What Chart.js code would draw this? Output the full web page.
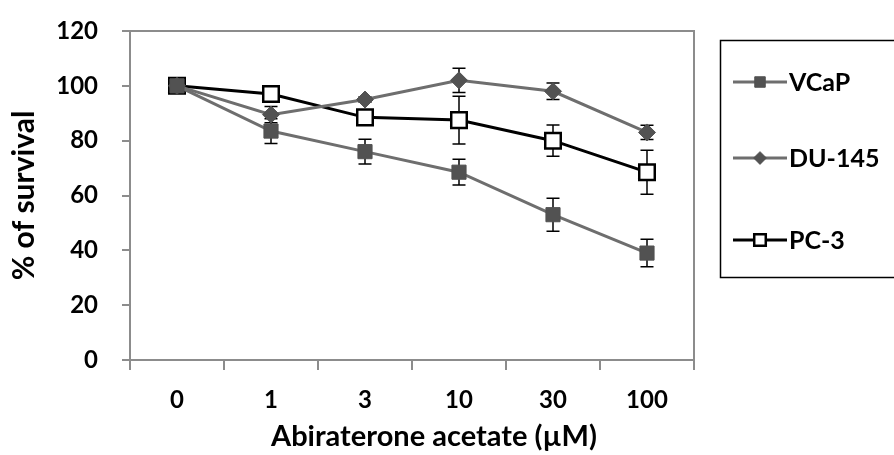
<!DOCTYPE html>
<html>
<head>
<meta charset="utf-8">
<script src="https://cdn.jsdelivr.net/npm/chart.js@4.4.1/dist/chart.umd.min.js"></script>
<style>
  html, body { margin: 0; padding: 0; background: #fff; }
  #wrap { width: 894px; height: 455px; }
</style>
</head>
<body>
<div id="wrap"><canvas id="chart" width="894" height="455"></canvas></div>
<script>
// data
const doses = ['0', '1', '3', '10', '30', '100'];
const vcap = [100, 83.5, 76, 68.5, 53, 39];
const vcapErr = [0, 4.5, 4.5, 4.7, 6, 5];
const du145 = [100, 89.5, 95, 102, 98, 83];
const du145Err = [0, 3, 1, 4.4, 3, 2.6];
const pc3 = [100, 97, 88.5, 87.5, 80, 68.5];
const pc3Err = [0, 2.8, 2, 8.7, 5.7, 8];
const yTicks = [0, 20, 40, 60, 80, 100, 120];

const FONT = 'Lato, "Open Sans", sans-serif';
const GRAY_LINE = '#6e6e6e';
const GRAY_MARK = '#525252';
const AXIS = '#8c8c8c';

const errors = [vcapErr, du145Err, pc3Err];

// error bars, drawn under the markers
const errorBars = {
    id: 'errorBars',
    beforeDatasetsDraw(chart) {
        const ctx = chart.ctx;
        const y = chart.scales.y;
        ctx.save();
        ctx.strokeStyle = '#000';
        ctx.lineWidth = 1.5;
        chart.data.datasets.forEach((ds, i) => {
            const meta = chart.getDatasetMeta(i);
            meta.data.forEach((pt, j) => {
                const e = errors[i][j];
                if (!e) return;
                const top = y.getPixelForValue(ds.data[j] + e);
                const bot = y.getPixelForValue(ds.data[j] - e);
                ctx.beginPath();
                ctx.moveTo(pt.x, top); ctx.lineTo(pt.x, bot);
                ctx.moveTo(pt.x - 6.5, top); ctx.lineTo(pt.x + 6.5, top);
                ctx.moveTo(pt.x - 6.5, bot); ctx.lineTo(pt.x + 6.5, bot);
                ctx.stroke();
            });
        });
        ctx.restore();
    }
};

function drawMarker(ctx, style, x, y, r) {
    if (style === 'rectRot') {
        ctx.moveTo(x, y - r); ctx.lineTo(x + r, y); ctx.lineTo(x, y + r); ctx.lineTo(x - r, y); ctx.closePath();
    } else {
        const s = r * 0.7;
        ctx.rect(x - s, y - s, 2 * s, 2 * s);
    }
}

// gray frame on top and right of plot area, x title, boxed legend
const frameAndLegend = {
    id: 'frameAndLegend',
    afterDraw(chart) {
        const ctx = chart.ctx;
        const a = chart.chartArea;
        ctx.save();
        ctx.strokeStyle = AXIS;
        ctx.lineWidth = 2;
        ctx.beginPath();
        ctx.moveTo(a.left, a.top); ctx.lineTo(a.right, a.top); ctx.lineTo(a.right, a.bottom);
        ctx.stroke();

        // x axis title
        ctx.fillStyle = '#000';
        ctx.font = 'bold 29px ' + FONT;
        ctx.textAlign = 'center';
        ctx.textBaseline = 'middle';
        ctx.fillText('Abiraterone acetate (µM)', 434, 437);

        // legend box
        ctx.textAlign = 'left';
        ctx.strokeStyle = '#000';
        ctx.lineWidth = 1.5;
        ctx.strokeRect(720.5, 40.5, 190, 237);
        const rows = [82, 158, 240];
        ctx.font = 'bold 25px ' + FONT;
        chart.data.datasets.forEach((ds, i) => {
            const yy = rows[i];
            ctx.strokeStyle = ds.borderColor;
            ctx.lineWidth = ds.borderWidth;
            ctx.beginPath();
            ctx.moveTo(733, yy); ctx.lineTo(787, yy);
            ctx.stroke();
            ctx.fillStyle = ds.pointBackgroundColor;
            ctx.strokeStyle = ds.pointBorderColor;
            ctx.lineWidth = ds.pointBorderWidth;
            ctx.beginPath();
            drawMarker(ctx, ds.pointStyle, 760, yy, ds.pointRadius * 0.75);
            ctx.fill(); ctx.stroke();
            ctx.fillStyle = '#000';
            ctx.fillText(ds.label, 789, yy + 1);
        });
        ctx.restore();
    }
};

new Chart(document.getElementById('chart'), {
    type: 'line',
    data: {
        labels: doses,
        datasets: [
            {
                label: 'VCaP', data: vcap,
                borderColor: GRAY_LINE, borderWidth: 3,
                pointStyle: 'rect', pointRadius: 10, pointBorderWidth: 1,
                pointBackgroundColor: GRAY_MARK, pointBorderColor: GRAY_MARK
            },
            {
                label: 'DU-145', data: du145,
                borderColor: GRAY_LINE, borderWidth: 3,
                pointStyle: 'rectRot', pointRadius: 8.5, pointBorderWidth: 1,
                pointBackgroundColor: GRAY_MARK, pointBorderColor: GRAY_MARK
            },
            {
                label: 'PC-3', data: pc3,
                borderColor: '#000', borderWidth: 3,
                pointStyle: 'rect', pointRadius: 11, pointBorderWidth: 2.5,
                pointBackgroundColor: '#fff', pointBorderColor: '#000'
            }
        ]
    },
    options: {
        responsive: false,
        animation: false,
        layout: { padding: { top: 31, right: 200, left: 0, bottom: 0 } },
        plugins: {
            legend: { display: false },
            tooltip: { enabled: false }
        },
        scales: {
            x: {
                offset: true,
                grid: { drawOnChartArea: false, offset: true, tickLength: 10, color: AXIS, lineWidth: 2 },
                border: { color: AXIS, width: 2 },
                ticks: { color: '#000', font: { family: FONT, size: 24, weight: 'bold' }, padding: 16 },
                afterFit(scale) { scale.height = 95; scale.paddingLeft = 0; scale.paddingRight = 0; }
            },
            y: {
                min: 0, max: 120,
                afterBuildTicks(scale) { scale.ticks = yTicks.map(v => ({ value: v })); },
                grid: { drawOnChartArea: false, tickLength: 8, color: AXIS, lineWidth: 2 },
                border: { color: AXIS, width: 2 },
                ticks: { color: '#000', font: { family: FONT, size: 24, weight: 'bold' }, padding: 24 },
                title: {
                    display: true, text: '% of survival', color: '#000',
                    font: { family: FONT, size: 30, weight: 'bold' }, padding: { top: 6, bottom: 6 }
                },
                afterFit(scale) { scale.width = 130; scale.paddingTop = 0; scale.paddingBottom = 0; }
            }
        }
    },
    plugins: [errorBars, frameAndLegend]
});
</script>
</body>
</html>
